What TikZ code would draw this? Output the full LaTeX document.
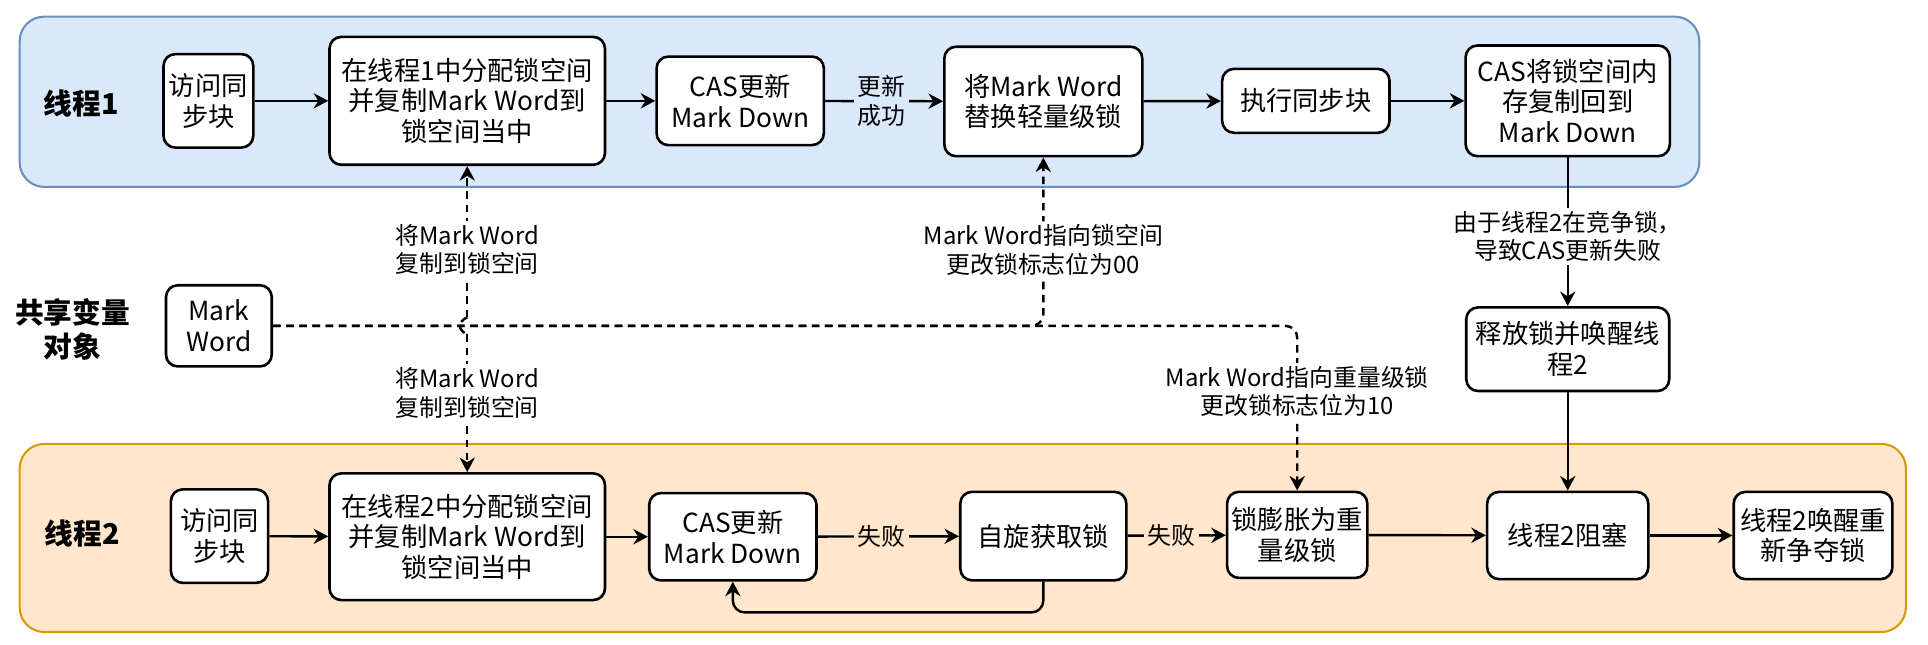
\documentclass[tikz,border=0pt]{standalone}
\usepackage{fontspec}
\setmainfont{Noto Sans CJK SC}
\usepackage{xcolor}
\usetikzlibrary{arrows.meta}
\definecolor{bandblue}{HTML}{DAE8FC}
\definecolor{bandblueline}{HTML}{6C8EBF}
\definecolor{bandorange}{HTML}{FFE6CC}
\definecolor{bandorangeline}{HTML}{D79B00}

\begin{document}
\begin{tikzpicture}[x=0.0125cm,y=-0.0125cm,>=Stealth]
\tikzstyle{every node}=[font=\fontsize{7.6}{8.9}\selectfont]
\tikzstyle{box}=[draw,line width=0.75pt,rounded corners=1.2mm,fill=white,align=center,inner sep=0pt]
\tikzstyle{title}=[font=\fontsize{8.3}{10}\selectfont\bfseries,align=center]
\tikzstyle{lbl}=[font=\fontsize{6.9}{8.2}\selectfont,align=center,fill=white,inner sep=1pt]
\tikzstyle{arr}=[line width=0.7pt,-{Stealth[length=4.2pt,width=4.4pt]}]
\tikzstyle{dline}=[line width=0.7pt,dash pattern=on 2.2pt off 1.6pt]

\useasboundingbox (0,0) rectangle (1568,524);

% Draw bands
\draw[fill=bandblue,draw=bandblueline,line width=0.6pt,rounded corners=2.5mm] (16,13.5) rectangle (1382,152);
\draw[fill=bandorange,draw=bandorangeline,line width=0.6pt,rounded corners=2.5mm] (16,361) rectangle (1550,514);

% Titles
\node[title] (t1) at (66,84) {线程1};
\node[title] (t0) at (59,268) {共享变量\\对象};
\node[title] (t2) at (67,434) {线程2};

% Thread 1 boxes
\node[box,minimum width=0.9125cm,minimum height=0.95cm] (a1) at (169.5,82) {访问同\\步块};
\node[box,minimum width=2.8cm,minimum height=1.3cm] (b1) at (380,82) {在线程1中分配锁空间\\并复制Mark Word到\\锁空间当中};
\node[box,minimum width=1.7cm,minimum height=0.9cm] (c1) at (602,82) {CAS更新\\Mark Down};
\node[box,minimum width=2.0125cm,minimum height=1.1125cm] (d1) at (848.5,82.5) {将Mark Word\\替换轻量级锁};
\node[box,minimum width=1.7cm,minimum height=0.65cm] (e1) at (1062,82) {执行同步块};
\node[box,minimum width=2.075cm,minimum height=1.125cm] (f1) at (1275,82) {CAS将锁空间内\\存复制回到\\Mark Down};
\node[box,minimum width=2.0625cm,minimum height=0.85cm] (g1) at (1275,284) {释放锁并唤醒线\\程2};

% Shared object
\node[box,minimum width=1.075cm,minimum height=0.825cm] (mw) at (178,265) {Mark\\Word};

% Thread 2 boxes
\node[box,minimum width=0.9875cm,minimum height=0.95cm] (a2) at (178.5,436) {访问同\\步块};
\node[box,minimum width=2.8cm,minimum height=1.2875cm] (b2) at (380,436.5) {在线程2中分配锁空间\\并复制Mark Word到\\锁空间当中};
\node[box,minimum width=1.7cm,minimum height=0.8875cm] (c2) at (596,436.5) {CAS更新\\Mark Down};
\node[box,minimum width=1.6875cm,minimum height=0.9cm] (d2) at (848.5,436) {自旋获取锁};
\node[box,minimum width=1.425cm,minimum height=0.875cm] (e2) at (1055,435) {锁膨胀为重\\量级锁};
\node[box,minimum width=1.6375cm,minimum height=0.8875cm] (f2) at (1275,435.5) {线程2阻塞};
\node[box,minimum width=1.6125cm,minimum height=0.8875cm] (g2) at (1474.5,435.5) {线程2唤醒重\\新争夺锁};

% Draw thread 1 arrows
\draw[arr] (a1) -- (b1);
\draw[arr] (b1) -- (c1);
\draw[arr] (c1) -- node[lbl,fill=bandblue,pos=0.48] {更新\\成功} (d1);
\draw[arr] (d1) -- (e1);
\draw[arr] (e1) -- (f1);
\draw[arr] (f1) -- node[lbl,pos=0.53] {由于线程2在竞争锁，\\导致CAS更新失败} (g1);
\draw[arr] (g1) -- (f2);

% Draw thread 2 arrows
\draw[arr] (a2) -- (b2);
\draw[arr] (b2) -- (c2);
\draw[arr] (c2) -- node[lbl,fill=bandorange,pos=0.45] {失败} (d2);
\draw[arr] (d2) -- node[lbl,fill=bandorange,pos=0.45] {失败} (e2);
\draw[arr] (e2) -- (f2);
\draw[arr] (f2) -- (g2);
\draw[arr,rounded corners=1.2mm] (d2.south) -- ++(0,25) -| (c2.south);

% Draw dashed lines from Mark Word
\coordinate (hopT) at (380,258);
\coordinate (hopB) at (380,272);
\draw[dline,arr,rounded corners=1.2mm] (mw.east) -| node[lbl,pos=0.725] {Mark Word指向锁空间\\更改锁标志位为00} (d1.south);
\draw[dline,arr,rounded corners=1.2mm] (mw.east) -| node[lbl,pos=0.70] {Mark Word指向重量级锁\\更改锁标志位为10} (e2.north);
\draw[dline,arr] (hopT) -- node[lbl,pos=0.45] {将Mark Word\\复制到锁空间} (b1.south);
\draw[dline,arr] (hopB) -- node[lbl,pos=0.425] {将Mark Word\\复制到锁空间} (b2.north);
\draw[dline] (hopT) .. controls (372,262) and (372,268) .. (hopB);

\end{tikzpicture}
\end{document}
